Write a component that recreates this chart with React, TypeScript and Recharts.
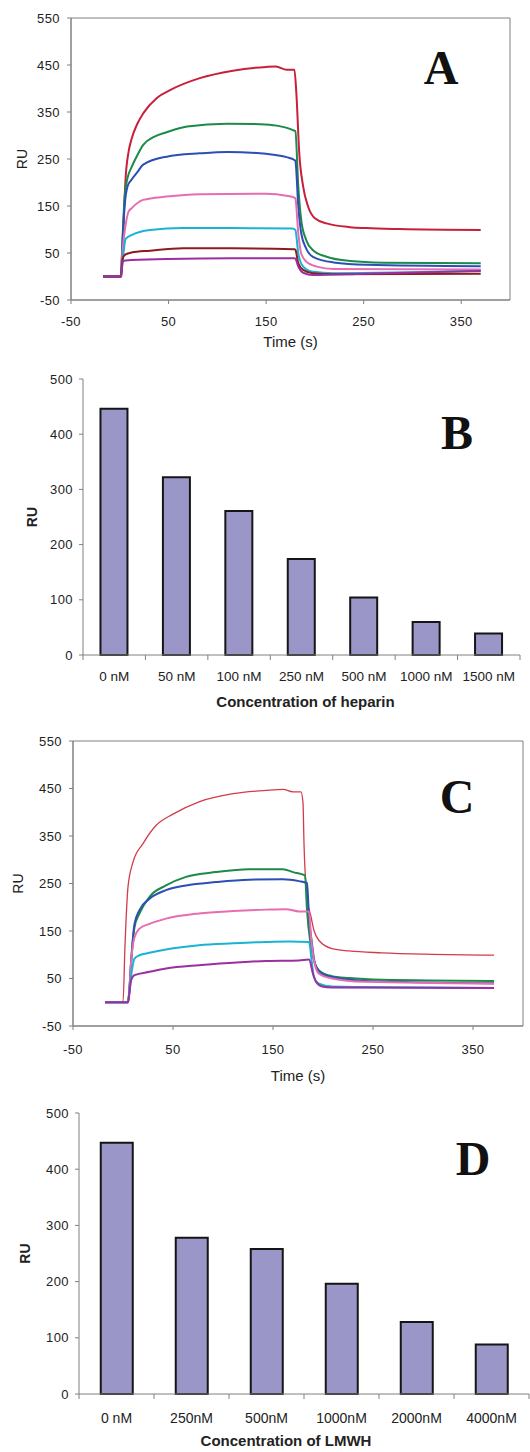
import React from "react";
import { LineChart, Line, BarChart, Bar, XAxis, YAxis, ReferenceArea, Label } from "recharts";

// sensorgrams, panel A (heparin): [time (s), RU]
const hep0nM = [[-17, 0], [2, 0], [4, 120], [6, 210], [9, 265], [12, 292], [18, 325], [24, 347], [38, 380], [52, 397], [82, 422], [116, 438], [150, 446], [160, 447], [171, 440], [179, 440], [181, 390], [184, 262], [188, 191], [193, 149], [200, 124], [212, 113], [236, 105], [253, 103], [287, 101], [370, 99]];
const hep50nM = [[-17, 0], [1, 0], [3, 90], [5, 170], [8, 210], [12, 232], [18, 258], [24, 280], [35, 297], [48, 307], [69, 319], [110, 325], [144, 324], [161, 321], [178, 311], [180, 309], [183, 191], [186, 120], [191, 78], [198, 56], [212, 42], [236, 33], [270, 29.5], [370, 28]];
const hep100nM = [[-17, 0], [1, 0], [3, 80], [5, 150], [8, 192], [12, 206], [18, 222], [24, 238], [48, 255], [82, 262], [110, 265], [150, 261], [171, 254], [179, 248], [180, 246], [183, 149], [186, 92], [191, 60], [198, 42], [219, 30], [253, 25], [370, 22]];
const hep250nM = [[-17, 0], [1, 0], [3, 60], [6, 110], [9, 138], [12, 145], [24, 163], [48, 170], [82, 175], [150, 176], [171, 172], [179, 168], [180, 166], [183, 92], [186, 49], [191, 32], [202, 21], [219, 16], [370, 15]];
const hep500nM = [[-17, 0], [1, 0], [3, 35], [6, 80], [12, 88], [31, 99], [65, 103], [116, 103], [177, 102], [180, 99], [183, 49], [188, 21], [198, 10], [219, 7], [370, 12]];
const hep1000nM = [[-17, 0], [1, 0], [3, 39], [6, 47], [12, 51], [31, 55], [65, 60], [116, 60], [179, 58], [180, 57], [183, 28], [188, 14], [198, 7], [219, 5], [370, 6]];
const hep1500nM = [[-17, 0], [1, 0], [3, 32], [6, 34], [48, 37], [116, 39], [179, 39], [180, 38], [183, 21], [188, 8], [198, 3], [250, 6], [370, 12]];

// sensorgrams, panel C (LMWH)
const lm0nM = [[-18, 0], [0, 0], [2, 120], [5, 243], [10, 295], [20, 334], [33, 372], [50, 396], [76, 422], [110, 439], [143, 446], [160, 448], [170, 443], [178, 443], [180, 420], [181, 334], [184, 222], [188, 180], [191, 151], [196, 130], [209, 113], [226, 108], [259, 104], [309, 101], [371, 99]];
const lm250nM = [[-18, 0], [5, 0], [6.5, 30], [8, 81], [11.5, 158], [16.5, 187], [26.5, 222], [43, 246], [63, 264], [93, 274], [126, 280], [160, 280], [170, 274], [182, 267], [184, 194], [187.5, 123], [191, 88], [196, 67], [209, 55], [226, 51], [259, 47.5], [371, 45]];
const lm500nM = [[-18, 0], [5, 0], [6.5, 30], [8, 81], [11.5, 165], [16.5, 194], [26.5, 218], [43, 236], [63, 246], [93, 253], [126, 258], [160, 259], [176, 255], [184, 251], [186, 180], [189, 123], [192, 81], [199, 60], [209, 53], [242, 45], [371, 40]];
const lm1000nM = [[-18, 0], [5, 0], [6.5, 30], [8, 81], [11.5, 137], [16.5, 155], [26.5, 165], [43, 176], [76, 187], [110, 192], [143, 195], [163, 196], [176, 191], [186, 191], [188, 137], [191, 88], [196, 60], [209, 50], [242, 43], [371, 39]];
const lm2000nM = [[-18, 0], [5, 0], [6.5, 25], [8, 53], [11.5, 92], [16.5, 99], [26.5, 104], [43, 111], [76, 120], [110, 124], [143, 127], [166, 128], [186, 127], [189, 81], [191, 53], [196, 39], [209, 33], [242, 32], [371, 30]];
const lm4000nM = [[-18, 0], [5, 0], [6.5, 20], [8, 46], [11.5, 57], [26.5, 64], [43, 71], [76, 78], [110, 83], [143, 87], [176, 88], [186, 90], [190, 60], [193, 43], [199, 33], [209, 31], [371, 30]];

// bar panels
const heparinConc = ["0 nM", "50 nM", "100 nM", "250 nM", "500 nM", "1000 nM", "1500 nM"];
const heparinRU = [446, 322, 261, 174, 104, 60, 39];
const lmwhConc = ["0 nM", "250nM", "500nM", "1000nM", "2000nM", "4000nM"];
const lmwhRU = [447, 278, 258, 196, 128, 88];

const timeTicks = [-50, 50, 150, 250, 350];
const ruTicks = [-50, 50, 150, 250, 350, 450, 550];
const barTicks = [0, 100, 200, 300, 400, 500];

const AXIS = "#808080";
const TXT = "#222";

const toPts = (arr: number[][]) => arr.map(([t, ru]) => ({ t, ru }));

type Series = { data: number[][]; color: string; width: number };

const seriesA: Series[] = [
  { data: hep0nM, color: "#c8203c", width: 2 },
  { data: hep50nM, color: "#1c8a48", width: 2 },
  { data: hep100nM, color: "#2b4fb5", width: 2 },
  { data: hep250nM, color: "#e76db0", width: 2 },
  { data: hep500nM, color: "#19b3d3", width: 2 },
  { data: hep1000nM, color: "#8b1d1d", width: 2 },
  { data: hep1500nM, color: "#9b2f9e", width: 2 },
];

const seriesC: Series[] = [
  { data: lm0nM, color: "#d33b4a", width: 1.3 },
  { data: lm250nM, color: "#1c8a48", width: 2 },
  { data: lm500nM, color: "#2b4fb5", width: 2 },
  { data: lm1000nM, color: "#e76db0", width: 2 },
  { data: lm2000nM, color: "#19b3d3", width: 2 },
  { data: lm4000nM, color: "#9b2f9e", width: 2 },
];

function Sensorgram(props: {
  height: number;
  margin: { top: number; right: number; bottom: number; left: number };
  series: Series[];
  xHeight: number;
  xTickMargin: number;
  ruOffset: number;
}) {
  const { height, margin, series, xHeight, xTickMargin, ruOffset } = props;
  return (
    <LineChart width={530} height={height} margin={margin}>
      <XAxis
        type="number"
        dataKey="t"
        domain={[-50, 400]}
        ticks={timeTicks}
        allowDataOverflow
        stroke={AXIS}
        tickSize={4}
        tickMargin={xTickMargin}
        height={xHeight}
        tick={{ fill: TXT, fontSize: 13, letterSpacing: 0.4 }}
      >
        <Label value="Time (s)" position="insideBottom" offset={3} style={{ fontSize: 15, fill: TXT }} />
      </XAxis>
      <YAxis
        type="number"
        domain={[-50, 550]}
        ticks={ruTicks}
        allowDataOverflow
        stroke={AXIS}
        tickSize={4}
        tickMargin={7}
        width={50}
        tick={{ fill: TXT, fontSize: 13, letterSpacing: 0.4 }}
      >
        <Label value="RU" angle={-90} position="insideLeft" offset={ruOffset} style={{ fontSize: 14, fill: TXT, textAnchor: "middle" }} />
      </YAxis>
      <ReferenceArea x1={-50} x2={400} y1={-50} y2={550} fill="none" stroke={AXIS} strokeOpacity={1} />
      {series.map((s, i) => (
        <Line
          key={i}
          data={toPts(s.data)}
          dataKey="ru"
          type="monotone"
          stroke={s.color}
          strokeWidth={s.width}
          dot={false}
          activeDot={false}
          isAnimationActive={false}
        />
      ))}
    </LineChart>
  );
}

// category label at the band centre, tick marks on the band edges (Excel style)
function makeEdgeTick(count: number, tickMargin: number, fontSize: number) {
  return (p: any) => {
    const { x, y, payload, index, width } = p;
    const half = payload && payload.offset ? payload.offset : width / (2 * count);
    const axisY = y - tickMargin;
    return (
      <g>
        <line x1={x - half} x2={x - half} y1={axisY} y2={axisY + 5} stroke={AXIS} />
        {index === count - 1 && <line x1={x + half} x2={x + half} y1={axisY} y2={axisY + 5} stroke={AXIS} />}
        <text x={x} y={y} dy="0.71em" textAnchor="middle" fill={TXT} fontSize={fontSize}>
          {payload.value}
        </text>
      </g>
    );
  };
}

function ConcBars(props: {
  height: number;
  margin: { top: number; right: number; bottom: number; left: number };
  conc: string[];
  ru: number[];
  title: string;
  gap: string;
  tickMargin: number;
  tickFont: number;
  ruOffset: number;
  titleDx: number;
}) {
  const { height, margin, conc, ru, title, gap, tickMargin, tickFont, ruOffset, titleDx } = props;
  const rows = conc.map((c, i) => ({ conc: c, ru: ru[i] }));
  return (
    <BarChart width={530} height={height} data={rows} margin={margin} barCategoryGap={gap}>
      <XAxis
        xAxisId={0}
        type="number"
        domain={[0, conc.length]}
        allowDataOverflow
        hide
        height={0}
      />
      <XAxis
        xAxisId="cat"
        dataKey="conc"
        interval={0}
        tickLine={false}
        tickSize={0}
        tickMargin={tickMargin}
        stroke={AXIS}
        height={55}
        tick={makeEdgeTick(conc.length, tickMargin, tickFont)}
      >
        <Label value={title} position="insideBottom" offset={3} dx={titleDx} style={{ fontSize: 15, fontWeight: "bold", fill: TXT }} />
      </XAxis>
      <YAxis
        type="number"
        domain={[0, 500]}
        ticks={barTicks}
        stroke={AXIS}
        tickSize={4}
        tickMargin={6}
        width={50}
        tick={{ fill: TXT, fontSize: 13, letterSpacing: 0.4 }}
      >
        <Label value="RU" angle={-90} position="insideLeft" offset={ruOffset} style={{ fontSize: 14, fontWeight: "bold", fill: TXT, textAnchor: "middle" }} />
      </YAxis>
      <ReferenceArea xAxisId={0} x1={0} x2={conc.length} y1={0} y2={500} fill="none" stroke={AXIS} strokeOpacity={1} />
      <Bar xAxisId="cat" dataKey="ru" fill="#9b96c8" stroke="#151515" strokeWidth={2} isAnimationActive={false} />
    </BarChart>
  );
}

const letterStyle = (top: number, cx: number): React.CSSProperties => ({
  position: "absolute",
  top,
  left: cx - 50,
  width: 100,
  textAlign: "center",
  fontFamily: "'Liberation Serif', 'Times New Roman', serif",
  fontWeight: "bold",
  fontSize: 48,
  lineHeight: 1,
  color: "#111",
});

export default function App() {
  return (
    <div
      style={{
        position: "absolute",
        left: 0,
        top: 0,
        width: 530,
        height: 1452,
        background: "#fff",
        fontFamily: "'Liberation Sans', Arial, sans-serif",
        overflow: "hidden",
      }}
    >
      <div style={{ position: "absolute", top: 0, left: 0 }}>
        <Sensorgram
          height={360}
          margin={{ top: 18, right: 20, bottom: 10, left: 21 }}
          series={seriesA}
          xHeight={50}
          xTickMargin={13}
          ruOffset={1}
        />
      </div>
      <div style={{ position: "absolute", top: 360, left: 0 }}>
        <ConcBars
          height={355}
          margin={{ top: 19, right: 10, bottom: 5, left: 33 }}
          conc={heparinConc}
          ru={heparinRU}
          title="Concentration of heparin"
          gap="28%"
          tickMargin={16}
          tickFont={13.5}
          ruOffset={-1}
          titleDx={4}
        />
      </div>
      <div style={{ position: "absolute", top: 710, left: 0 }}>
        <Sensorgram
          height={380}
          margin={{ top: 31, right: 7, bottom: 6, left: 23 }}
          series={seriesC}
          xHeight={58}
          xTickMargin={15}
          ruOffset={-5}
        />
      </div>
      <div style={{ position: "absolute", top: 1085, left: 0 }}>
        <ConcBars
          height={367}
          margin={{ top: 28, right: 1, bottom: 3, left: 29 }}
          conc={lmwhConc}
          ru={lmwhRU}
          title="Concentration of LMWH"
          gap="29%"
          tickMargin={19}
          tickFont={14}
          ruOffset={-4}
          titleDx={-18}
        />
      </div>
      <div style={letterStyle(44, 441)}>A</div>
      <div style={letterStyle(409, 457)}>B</div>
      <div style={letterStyle(773, 457)}>C</div>
      <div style={letterStyle(1135, 473)}>D</div>
    </div>
  );
}
